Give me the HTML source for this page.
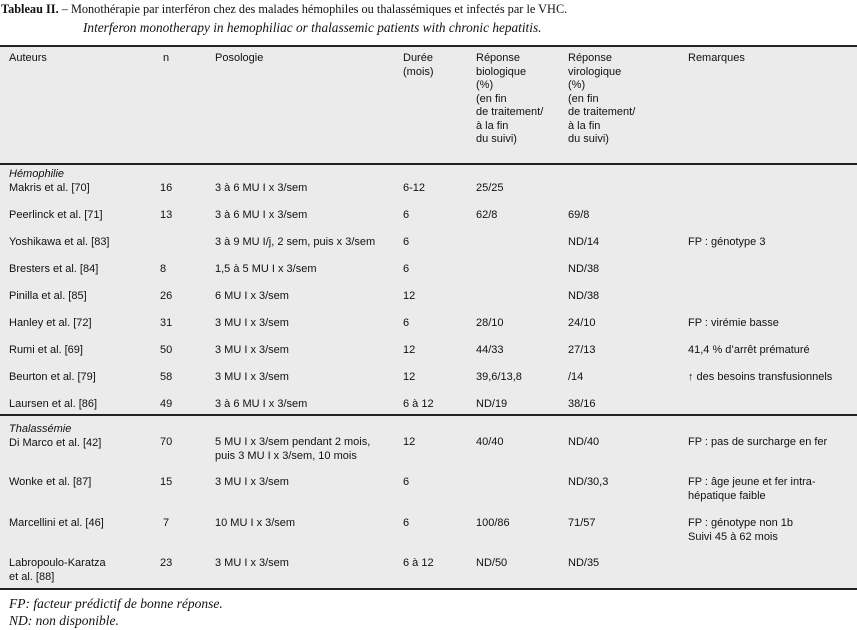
<!DOCTYPE html>
<html><head><meta charset="utf-8"><style>
body{margin:0;width:857px;height:630px;background:#fff;position:relative;overflow:hidden;font-family:"Liberation Sans",sans-serif;color:#111}
.t{position:absolute;font-size:11px;line-height:13.5px;white-space:nowrap}
.s{position:absolute;font-family:"Liberation Serif",serif;font-size:13px;white-space:nowrap}
.bg{position:absolute;left:0;top:46px;width:857px;height:543px;background:#ebebeb}
.ln{position:absolute;left:0;width:857px;background:#222}
i{font-style:italic}
</style></head><body>
<div class="s" style="left:1px;top:2px;font-size:12.3px"><b>Tableau II.</b> – Monothérapie par interféron chez des malades hémophiles ou thalassémiques et infectés par le VHC.</div>
<div class="s" style="left:83px;top:20px;font-size:13.3px"><i>Interferon monotherapy in hemophiliac or thalassemic patients with chronic hepatitis.</i></div>
<div class="bg"></div>
<div class="ln" style="top:45px;height:2px"></div>
<div class="ln" style="top:163px;height:2px"></div>
<div class="ln" style="top:414px;height:2px"></div>
<div class="ln" style="top:588px;height:2px"></div>

<div class="t" style="left:9px;top:52px">Auteurs</div>
<div class="t" style="left:163px;top:52px">n</div>
<div class="t" style="left:215px;top:52px">Posologie</div>
<div class="t" style="left:403px;top:52px">Durée<br>(mois)</div>
<div class="t" style="left:476px;top:52px">Réponse<br>biologique<br>(%)<br>(en fin<br>de traitement/<br>à la fin<br>du suivi)</div>
<div class="t" style="left:568px;top:52px">Réponse<br>virologique<br>(%)<br>(en fin<br>de traitement/<br>à la fin<br>du suivi)</div>
<div class="t" style="left:688px;top:52px">Remarques</div>

<div class="t" style="left:9px;top:168px"><i>Hémophilie</i></div>
<div class="t" style="left:9px;top:182px">Makris et al. [70]<br><br>Peerlinck et al. [71]<br><br>Yoshikawa et al. [83]<br><br>Bresters et al. [84]<br><br>Pinilla et al. [85]<br><br>Hanley et al. [72]<br><br>Rumi et al. [69]<br><br>Beurton et al. [79]<br><br>Laursen et al. [86]</div>
<div class="t" style="left:160px;top:182px">16<br><br>13<br><br><br><br>8<br><br>26<br><br>31<br><br>50<br><br>58<br><br>49</div>
<div class="t" style="left:215px;top:182px">3 à 6 MU I x 3/sem<br><br>3 à 6 MU I x 3/sem<br><br>3 à 9 MU I/j, 2 sem, puis x 3/sem<br><br>1,5 à 5 MU I x 3/sem<br><br>6 MU I x 3/sem<br><br>3 MU I x 3/sem<br><br>3 MU I x 3/sem<br><br>3 MU I x 3/sem<br><br>3 à 6 MU I x 3/sem</div>
<div class="t" style="left:403px;top:182px">6-12<br><br>6<br><br>6<br><br>6<br><br>12<br><br>6<br><br>12<br><br>12<br><br>6 à 12</div>
<div class="t" style="left:476px;top:182px">25/25<br><br>62/8<br><br><br><br><br><br><br><br>28/10<br><br>44/33<br><br>39,6/13,8<br><br>ND/19</div>
<div class="t" style="left:568px;top:182px"><br><br>69/8<br><br>ND/14<br><br>ND/38<br><br>ND/38<br><br>24/10<br><br>27/13<br><br>/14<br><br>38/16</div>
<div class="t" style="left:688px;top:182px"><br><br><br><br>FP : génotype 3<br><br><br><br><br><br>FP : virémie basse<br><br>41,4 % d’arrêt prématuré<br><br>↑ des besoins transfusionnels</div>

<div class="t" style="left:9px;top:423px"><i>Thalassémie</i><br>Di Marco et al. [42]</div>
<div class="t" style="left:160px;top:436px">70</div>
<div class="t" style="left:215px;top:436px">5 MU I x 3/sem pendant 2 mois,<br>puis 3 MU I x 3/sem, 10 mois</div>
<div class="t" style="left:403px;top:436px">12</div>
<div class="t" style="left:476px;top:436px">40/40</div>
<div class="t" style="left:568px;top:436px">ND/40</div>
<div class="t" style="left:688px;top:436px">FP : pas de surcharge en fer</div>

<div class="t" style="left:9px;top:476px">Wonke et al. [87]</div>
<div class="t" style="left:160px;top:476px">15</div>
<div class="t" style="left:215px;top:476px">3 MU I x 3/sem</div>
<div class="t" style="left:403px;top:476px">6</div>
<div class="t" style="left:568px;top:476px">ND/30,3</div>
<div class="t" style="left:688px;top:476px">FP : âge jeune et fer intra-<br>hépatique faible</div>

<div class="t" style="left:9px;top:517px">Marcellini et al. [46]</div>
<div class="t" style="left:163px;top:517px">7</div>
<div class="t" style="left:215px;top:517px">10 MU I x 3/sem</div>
<div class="t" style="left:403px;top:517px">6</div>
<div class="t" style="left:476px;top:517px">100/86</div>
<div class="t" style="left:568px;top:517px">71/57</div>
<div class="t" style="left:688px;top:517px">FP : génotype non 1b<br>Suivi 45 à 62 mois</div>

<div class="t" style="left:9px;top:557px">Labropoulo-Karatza<br>et al. [88]</div>
<div class="t" style="left:160px;top:557px">23</div>
<div class="t" style="left:215px;top:557px">3 MU I x 3/sem</div>
<div class="t" style="left:403px;top:557px">6 à 12</div>
<div class="t" style="left:476px;top:557px">ND/50</div>
<div class="t" style="left:568px;top:557px">ND/35</div>

<div class="s" style="left:9px;top:596px;font-size:13.5px"><i>FP: facteur prédictif de bonne réponse.</i></div>
<div class="s" style="left:9px;top:613px;font-size:13.5px"><i>ND: non disponible.</i></div>
</body></html>
